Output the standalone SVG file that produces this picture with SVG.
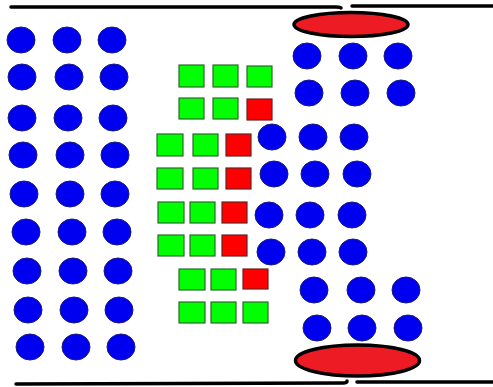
<svg xmlns="http://www.w3.org/2000/svg" width="493" height="387" viewBox="0 0 493 387">
<style>
.b{fill:#0000f0;stroke:#1a1a80;stroke-width:1}
.g{fill:#00ff00;stroke:#2a6a2a;stroke-width:1.2}
.r{fill:#ff0000;stroke:#6a2020;stroke-width:1.2}
.e{fill:#ed1c24;stroke:#000;stroke-width:3.5}
.w{fill:none;stroke:#000;stroke-width:3.5;stroke-linecap:round}
</style>
<rect width="493" height="387" fill="#fff"/>
<g id="walls">
<path class="w" d="M11,7 L336,7 Q341,7 341,8"/>
<path class="w" d="M352,6 L493,6"/>
<path class="w" d="M16,384 L343,383 Q347,383 347,381"/>
<path class="w" d="M357,382 L493,382"/>
</g>
<g id="channel-top"><ellipse class="e" cx="351" cy="24.5" rx="57" ry="12"/></g>
<g id="channel-bottom"><ellipse class="e" cx="357.5" cy="360.5" rx="62" ry="15.5"/></g>
<g id="left-particles">
<ellipse class="b" cx="21" cy="40" rx="14" ry="13"/><ellipse class="b" cx="67" cy="40" rx="14" ry="13"/><ellipse class="b" cx="112" cy="40" rx="14" ry="13"/>
<ellipse class="b" cx="22" cy="77" rx="14" ry="13"/><ellipse class="b" cx="69" cy="77" rx="14" ry="13"/><ellipse class="b" cx="114" cy="77" rx="14" ry="13"/>
<ellipse class="b" cx="22" cy="118" rx="14" ry="13"/><ellipse class="b" cx="68" cy="118" rx="14" ry="13"/><ellipse class="b" cx="113" cy="118" rx="14" ry="13"/>
<ellipse class="b" cx="23" cy="155" rx="14" ry="13"/><ellipse class="b" cx="70" cy="155" rx="14" ry="13"/><ellipse class="b" cx="115" cy="155" rx="14" ry="13"/>
<ellipse class="b" cx="24" cy="194" rx="14" ry="13"/><ellipse class="b" cx="70" cy="194" rx="14" ry="13"/><ellipse class="b" cx="115" cy="194" rx="14" ry="13"/>
<ellipse class="b" cx="26" cy="232" rx="14" ry="13"/><ellipse class="b" cx="72" cy="232" rx="14" ry="13"/><ellipse class="b" cx="117" cy="232" rx="14" ry="13"/>
<ellipse class="b" cx="27" cy="271" rx="14" ry="13"/><ellipse class="b" cx="73" cy="271" rx="14" ry="13"/><ellipse class="b" cx="118" cy="271" rx="14" ry="13"/>
<ellipse class="b" cx="28" cy="310" rx="14" ry="13"/><ellipse class="b" cx="74" cy="310" rx="14" ry="13"/><ellipse class="b" cx="119" cy="310" rx="14" ry="13"/>
<ellipse class="b" cx="30" cy="347" rx="14" ry="13"/><ellipse class="b" cx="76" cy="347" rx="14" ry="13"/><ellipse class="b" cx="121" cy="347" rx="14" ry="13"/>
</g>
<g id="squares">
<rect class="g" x="179" y="65" width="25" height="22"/><rect class="g" x="213" y="65" width="25" height="22"/><rect class="g" x="247" y="66" width="25" height="21"/>
<rect class="g" x="179" y="98" width="25" height="21"/><rect class="g" x="213" y="98" width="25" height="21"/><rect class="r" x="247" y="99" width="25" height="21"/>
<rect class="g" x="157" y="134" width="26" height="22"/><rect class="g" x="193" y="134" width="25" height="22"/><rect class="r" x="226" y="134" width="25" height="22"/>
<rect class="g" x="157" y="168" width="26" height="21"/><rect class="g" x="193" y="168" width="25" height="21"/><rect class="r" x="226" y="168" width="25" height="21"/>
<rect class="g" x="158" y="202" width="26" height="21"/><rect class="g" x="190" y="202" width="25" height="21"/><rect class="r" x="222" y="202" width="25" height="21"/>
<rect class="g" x="158" y="235" width="26" height="21"/><rect class="g" x="190" y="235" width="25" height="21"/><rect class="r" x="222" y="235" width="25" height="21"/>
<rect class="g" x="179" y="269" width="26" height="21"/><rect class="g" x="211" y="269" width="25" height="21"/><rect class="r" x="243" y="269" width="25" height="20"/>
<rect class="g" x="179" y="302" width="26" height="21"/><rect class="g" x="211" y="302" width="25" height="21"/><rect class="g" x="243" y="302" width="25" height="21"/>
</g>
<g id="right-particles">
<ellipse class="b" cx="307" cy="56" rx="14" ry="13"/><ellipse class="b" cx="353" cy="56" rx="14" ry="13"/><ellipse class="b" cx="398" cy="56" rx="14" ry="13"/>
<ellipse class="b" cx="309" cy="93" rx="14" ry="13"/><ellipse class="b" cx="355" cy="93" rx="14" ry="13"/><ellipse class="b" cx="401" cy="93" rx="14" ry="13"/>
<ellipse class="b" cx="272" cy="137" rx="14" ry="13"/><ellipse class="b" cx="313" cy="137" rx="14" ry="13"/><ellipse class="b" cx="354" cy="137" rx="14" ry="13"/>
<ellipse class="b" cx="274" cy="174" rx="14" ry="13"/><ellipse class="b" cx="315" cy="174" rx="14" ry="13"/><ellipse class="b" cx="357" cy="174" rx="14" ry="13"/>
<ellipse class="b" cx="269" cy="215" rx="14" ry="13"/><ellipse class="b" cx="310" cy="215" rx="14" ry="13"/><ellipse class="b" cx="352" cy="215" rx="14" ry="13"/>
<ellipse class="b" cx="271" cy="252" rx="14" ry="13"/><ellipse class="b" cx="312" cy="252" rx="14" ry="13"/><ellipse class="b" cx="353" cy="252" rx="14" ry="13"/>
<ellipse class="b" cx="314" cy="290" rx="14" ry="13"/><ellipse class="b" cx="361" cy="290" rx="14" ry="13"/><ellipse class="b" cx="406" cy="290" rx="14" ry="13"/>
<ellipse class="b" cx="317" cy="328" rx="14" ry="13"/><ellipse class="b" cx="362" cy="328" rx="14" ry="13"/><ellipse class="b" cx="408" cy="328" rx="14" ry="13"/>
</g>
</svg>
